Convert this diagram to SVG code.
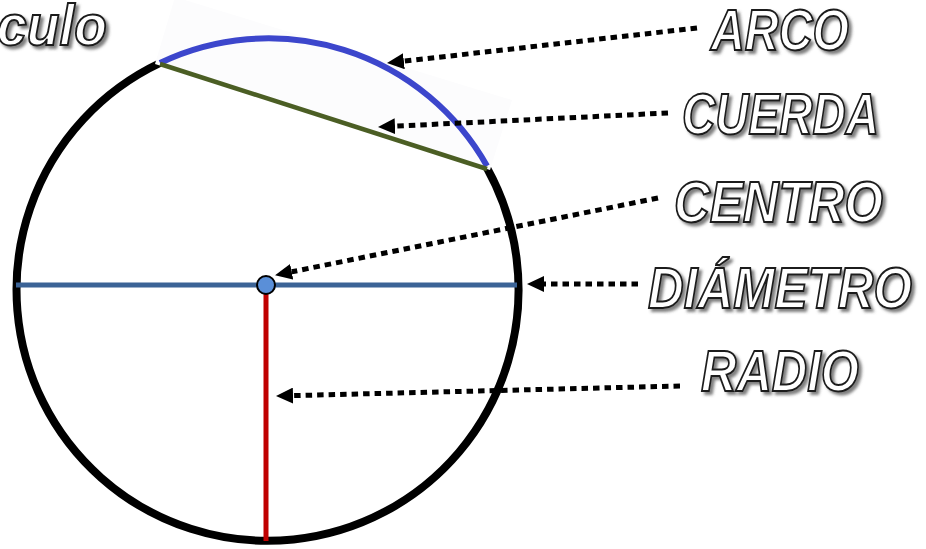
<svg xmlns="http://www.w3.org/2000/svg" width="926" height="549" viewBox="0 0 926 549">
  <defs>
    <marker id="ah" markerUnits="userSpaceOnUse" markerWidth="17" markerHeight="16" viewBox="0 0 17 16" refX="0" refY="8" orient="auto">
      <path d="M0,0 L17,8 L0,16 z" fill="#000"/>
    </marker>
    <filter id="sh" x="-25%" y="-50%" width="160%" height="210%">
      <feDropShadow dx="3" dy="3" stdDeviation="1.5" flood-color="#555" flood-opacity="0.75"/>
    </filter>
  </defs>
  <style>
    .lbl { font-family: "Liberation Sans", Arial, sans-serif; font-weight: bold; font-style: italic; font-size: 58px; fill: #fff; stroke: #1a1a1a; stroke-width: 2; filter: url(#sh); }
    .arr { fill: none; stroke: #000; stroke-width: 5; stroke-dasharray: 6.5 5; marker-end: url(#ah); }
  </style>
  <rect width="926" height="549" fill="#fff"/>

  <g id="title">
    <text class="lbl" x="-3" y="45" font-size="80" textLength="110" lengthAdjust="spacingAndGlyphs">culo</text>
  </g>

  <g id="circle">
    <path d="M160,63 A251,251 0 1 0 487,168" fill="none" stroke="#000" stroke-width="8"/>
  </g>
  <g id="arc-box">
    <polygon points="175,-3 512,100 490,170 155,64" fill="#fcfcfd"/>
  </g>
  <g id="arco">
    <path d="M160,63 A251,251 0 0 1 487,166" fill="none" stroke="#3c46cc" stroke-width="6"/>
  </g>
  <g id="cuerda">
    <line x1="160" y1="64" x2="487" y2="169" stroke="#4b5e24" stroke-width="4.5"/>
  </g>
  <g id="diametro">
    <line x1="16" y1="285" x2="517" y2="285" stroke="#3b6396" stroke-width="5"/>
  </g>
  <g id="radio">
    <line x1="266" y1="292" x2="266" y2="541" stroke="#c00000" stroke-width="5"/>
  </g>
  <g id="centro">
    <circle cx="266" cy="285" r="9" fill="#5a8fd8" stroke="#000" stroke-width="2"/>
  </g>

  <g id="connectors">
    <line class="arr" x1="697" y1="28" x2="403.9" y2="61.2"/>
    <line class="arr" x1="668" y1="113" x2="395" y2="126.2"/>
    <line class="arr" x1="658" y1="198" x2="291.7" y2="271.8"/>
    <line class="arr" x1="638" y1="284" x2="544" y2="284"/>
    <line class="arr" x1="680" y1="386" x2="293" y2="395.6"/>
  </g>

  <g id="label-arco"><text class="lbl" x="711" y="50" textLength="138" lengthAdjust="spacingAndGlyphs">ARCO</text></g>
  <g id="label-cuerda"><text class="lbl" x="682" y="134" textLength="197" lengthAdjust="spacingAndGlyphs">CUERDA</text></g>
  <g id="label-centro"><text class="lbl" x="674" y="222" textLength="209" lengthAdjust="spacingAndGlyphs">CENTRO</text></g>
  <g id="label-diametro"><text class="lbl" x="648" y="308" textLength="264" lengthAdjust="spacingAndGlyphs">DIÁMETRO</text></g>
  <g id="label-radio"><text class="lbl" x="701" y="391" textLength="158" lengthAdjust="spacingAndGlyphs">RADIO</text></g>
</svg>
